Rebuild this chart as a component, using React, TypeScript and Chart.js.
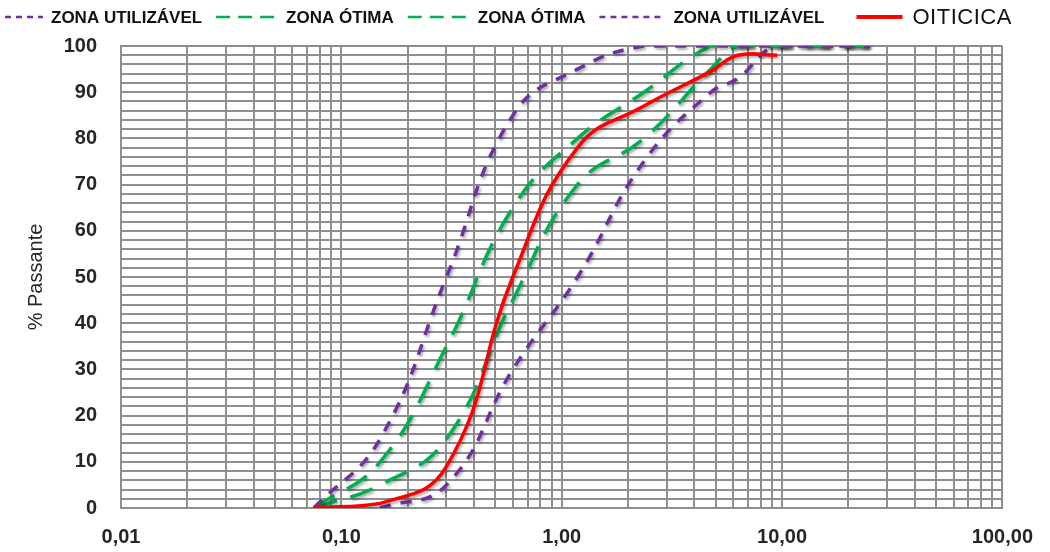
import React, { useEffect, useRef } from "react";
import { Chart, registerables } from "chart.js";

Chart.register(...registerables);

// ---- data ----
const zoneSizes = [0.075, 0.15, 0.3, 0.6, 1.18, 2.36, 4.75, 6.3, 9.5, 25];
const utilizavelSuperior = [0, 15, 50, 85, 95, 100, 100, 100, 100, 100];
const otimaSuperior = [0, 10, 35, 65, 80, 90, 100, 100, 100, 100];
const otimaInferior = [0, 5, 15, 45, 70, 80, 95, 100, 100, 100];
const utilizavelInfSizes = [0.15, 0.3, 0.6, 1.18, 2.36, 4.75, 6.3, 9.5, 25];
const utilizavelInferior = [0, 5, 30, 50, 75, 90, 93, 100, 100];
const oiticicaSizes = [0.075, 0.15, 0.3, 0.6, 1.18, 2.36, 4.75, 6.3, 9.5];
const oiticica = [0, 1, 9, 50, 78, 87, 94.5, 98, 98];
const seriesLabels = ["ZONA UTILIZÁVEL", "ZONA ÓTIMA", "ZONA ÓTIMA", "ZONA UTILIZÁVEL", "OITICICA"];
const xDecades = [0.01, 0.1, 1, 10, 100];
const xMultipliers = [1, 2, 3, 4, 5, 6, 7, 8, 9];
const yLabelStep = 10;
const yGridStep = 2;

const PURPLE = "#7030a0";
const GREEN = "#00b050";
const RED = "#ff0000";
const GRID = "#8e8e8e";
const TEXT = "#262626";
const FONT = '"Liberation Sans", Arial, sans-serif';
const NARROW = '"Liberation Sans Narrow", "Liberation Sans", Arial, sans-serif';

const pts = (xs: number[], ys: number[]) => xs.map((x, i) => ({ x, y: ys[i] }));

const legendSpecs = [
  { sample: 38, dash: [6, 5], width: 2.5, gap: 8, after: 14, font: `bold 17px ${NARROW}`, spacing: "0px" },
  { sample: 60, dash: [14, 8], width: 2.5, gap: 10, after: 14, font: `bold 17px ${NARROW}`, spacing: "0px" },
  { sample: 60, dash: [14, 8], width: 2.5, gap: 10, after: 14, font: `bold 17px ${NARROW}`, spacing: "0px" },
  { sample: 66, dash: [6, 5], width: 2.5, gap: 8, after: 32, font: `bold 17px ${NARROW}`, spacing: "0px" },
  { sample: 46, dash: [], width: 4, gap: 10, after: 0, font: `22px ${NARROW}`, spacing: "0.5px" },
];

const legendPlugin = {
  id: "customLegend",
  afterDraw(chart: any) {
    const ctx = chart.ctx as CanvasRenderingContext2D;
    let x = 5;
    const y = 17;
    chart.data.datasets.forEach((ds: any, i: number) => {
      const s = legendSpecs[i];
      ctx.save();
      ctx.strokeStyle = ds.borderColor;
      ctx.lineWidth = s.width;
      ctx.setLineDash(s.dash);
      ctx.beginPath();
      ctx.moveTo(x, y);
      ctx.lineTo(x + s.sample, y);
      ctx.stroke();
      ctx.setLineDash([]);
      x += s.sample + s.gap;
      ctx.font = s.font;
      (ctx as any).letterSpacing = s.spacing;
      ctx.fillStyle = "#111";
      ctx.textBaseline = "middle";
      ctx.textAlign = "left";
      ctx.fillText(ds.label, x, y + 1);
      x += ctx.measureText(ds.label).width + s.after;
      ctx.restore();
    });
  },
};

const shadowPlugin = {
  id: "lineShadow",
  beforeDatasetDraw(chart: any) {
    const ctx = chart.ctx;
    ctx.save();
    ctx.shadowColor = "rgba(0,0,0,0.35)";
    ctx.shadowBlur = 3;
    ctx.shadowOffsetX = 1.5;
    ctx.shadowOffsetY = 2;
  },
  afterDatasetDraw(chart: any) {
    chart.ctx.restore();
  },
};

export default function App() {
  const ref = useRef<HTMLCanvasElement>(null);
  useEffect(() => {
    document.body.style.margin = "0";
    const canvas = ref.current;
    if (!canvas) return;
    const common = { pointRadius: 0, pointHoverRadius: 0, fill: false, tension: 0.45, borderCapStyle: "butt" as const };
    const chart = new Chart(canvas, {
      type: "line",
      data: {
        datasets: [
          { ...common, label: seriesLabels[0], data: pts(zoneSizes, utilizavelSuperior), borderColor: PURPLE, borderWidth: 3.5, borderDash: [11, 10], order: 1 },
          { ...common, label: seriesLabels[1], data: pts(zoneSizes, otimaSuperior), borderColor: GREEN, borderWidth: 3.5, borderDash: [24, 14], order: 2 },
          { ...common, label: seriesLabels[2], data: pts(zoneSizes, otimaInferior), borderColor: GREEN, borderWidth: 3.5, borderDash: [24, 14], order: 3 },
          { ...common, label: seriesLabels[3], data: pts(utilizavelInfSizes, utilizavelInferior), borderColor: PURPLE, borderWidth: 3.5, borderDash: [11, 10], order: 4 },
          { ...common, label: seriesLabels[4], data: pts(oiticicaSizes, oiticica), borderColor: RED, borderWidth: 3.5, order: 0 },
        ],
      },
      options: {
        responsive: false,
        animation: false,
        layout: { padding: { top: 46, right: 39, left: 0, bottom: 0 } },
        plugins: { legend: { display: false }, tooltip: { enabled: false } },
        scales: {
          x: {
            type: "logarithmic",
            min: xDecades[0],
            max: xDecades[xDecades.length - 1],
            afterFit: (s: any) => {
              s.height = 44;
            },
            afterBuildTicks: (s: any) => {
              const t: any[] = [];
              for (let d = 0; d < xDecades.length - 1; d++) {
                xMultipliers.forEach((m) => t.push({ value: xDecades[d] * m }));
              }
              t.push({ value: xDecades[xDecades.length - 1] });
              s.ticks = t;
            },
            ticks: {
              autoSkip: false,
              maxRotation: 0,
              padding: 17,
              color: TEXT,
              font: { family: FONT, size: 20, weight: "bold" },
              callback: (v: any) => {
                const n = Number(v);
                return xDecades.some((d) => Math.abs(n - d) / d < 1e-6) ? n.toFixed(2).replace(".", ",") : "";
              },
            },
            grid: { color: GRID, lineWidth: 2, drawTicks: false },
            border: { color: GRID, width: 2 },
          },
          y: {
            min: 0,
            max: 100,
            afterFit: (s: any) => {
              s.width = 121;
            },
            ticks: {
              stepSize: yGridStep,
              autoSkip: false,
              padding: 24,
              color: TEXT,
              font: { family: FONT, size: 20, weight: "bold" },
              callback: (v: any) => (Number(v) % yLabelStep === 0 ? String(v) : ""),
            },
            grid: { color: GRID, lineWidth: 2, drawTicks: false },
            border: { color: GRID, width: 2 },
            title: {
              display: true,
              text: "% Passante",
              color: TEXT,
              font: { family: FONT, size: 20 },
              padding: { top: 24, bottom: 0 },
            },
          },
        },
      },
      plugins: [shadowPlugin, legendPlugin],
    } as any);
    return () => chart.destroy();
  }, []);
  return (
    <div style={{ width: 1050, height: 552, background: "#fff" }}>
      <canvas ref={ref} width={1050} height={552} style={{ width: 1050, height: 552, display: "block" }} />
    </div>
  );
}
